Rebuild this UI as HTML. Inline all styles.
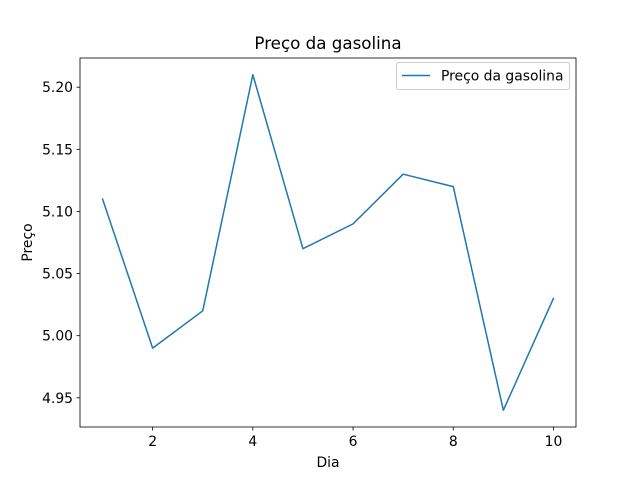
<!DOCTYPE html>
<html><head><meta charset="utf-8"><style>
body{margin:0;background:#fff;}
svg{display:block;font-family:"DejaVu Sans","Liberation Sans",sans-serif;}
</style></head><body>
<svg id="chart" width="640" height="480"></svg>
<script>
const days=[1,2,3,4,5,6,7,8,9,10];
const prices=[5.11,4.99,5.02,5.21,5.07,5.09,5.13,5.12,4.94,5.03];
const xTicks=[2,4,6,8,10];
const yTicks=[4.95,5.00,5.05,5.10,5.15,5.20];
const yTickLabels=["4.95","5.00","5.05","5.10","5.15","5.20"];

const L=80,R=576,T=58,B=427;
const xmin=Math.min(...days),xmax=Math.max(...days);
const ymin=Math.min(...prices),ymax=Math.max(...prices);
const xpad=(xmax-xmin)*0.05,ypad=(ymax-ymin)*0.05;
const X=v=>L+(v-(xmin-xpad))/((xmax+xpad)-(xmin-xpad))*(R-L);
const Y=v=>B-(v-(ymin-ypad))/((ymax+ypad)-(ymin-ypad))*(B-T);
const NS="http://www.w3.org/2000/svg";
const svg=document.getElementById('chart');
function mk(t,a,txt){const e=document.createElementNS(NS,t);for(const k in a)e.setAttribute(k,a[k]);if(txt!==undefined)e.textContent=txt;svg.appendChild(e);return e;}

const pts=days.map((d,i)=>X(d).toFixed(2)+","+Y(prices[i]).toFixed(2)).join(" ");
const line=mk('polyline',{points:pts,fill:'none',stroke:'#1f77b4','stroke-width':1.5,'stroke-linejoin':'round','stroke-linecap':'square'});



const frame=mk('rect',{x:L,y:T,width:R-L,height:B-T,fill:'none',stroke:'#000','stroke-width':0.8});



xTicks.forEach(v=>{
  const x=X(v);
  const tk=mk('line',{x1:x,x2:x,y1:B,y2:B+3.5,stroke:'#000','stroke-width':0.8});
  
  
  const lb=mk('text',{x:x,y:B+19,'font-size':13.9,'text-anchor':'middle',fill:'#000'},String(v));
  
  
});
yTicks.forEach((v,i)=>{
  const y=Y(v);
  const tk=mk('line',{x1:L-3.5,x2:L,y1:y,y2:y,stroke:'#000','stroke-width':0.8});
  
  
  const lb=mk('text',{x:L-7,y:y+5,'font-size':13.9,'text-anchor':'end',fill:'#000'},yTickLabels[i]);
  
  
});

const title=mk('text',{x:(L+R)/2,y:49,'font-size':16.7,'text-anchor':'middle',fill:'#000'},'Preço da gasolina');


const xl=mk('text',{x:(L+R)/2,y:467,'font-size':13.9,'text-anchor':'middle',fill:'#000'},'Dia');


const yl=mk('text',{x:0,y:0,'font-size':13.9,'text-anchor':'middle',fill:'#000',transform:'translate(32,'+((T+B)/2)+') rotate(-90)'},'Preço');



const lg=mk('rect',{x:396.5,y:62.5,width:173,height:27,rx:2,fill:'#fff','fill-opacity':0.8,stroke:'#ccc','stroke-width':1});


const ll=mk('line',{x1:402,x2:430,y1:75.5,y2:75.5,stroke:'#1f77b4','stroke-width':1.5});


const lt=mk('text',{x:441,y:80.5,'font-size':13.9,fill:'#000'},'Preço da gasolina');


</script>
</body></html>
